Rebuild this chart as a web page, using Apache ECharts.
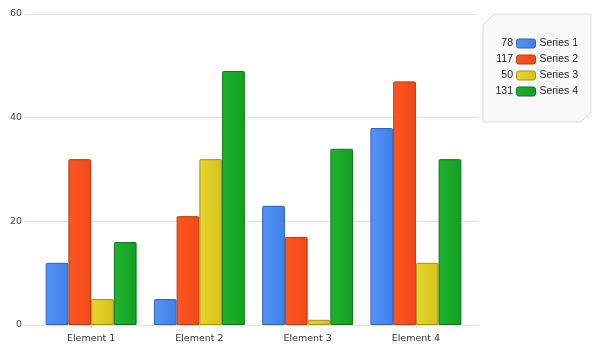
<!DOCTYPE html>
<html>
<head>
<meta charset="utf-8">
<script src="https://cdn.jsdelivr.net/npm/echarts@6/dist/echarts.min.js"></script>
<style>
  html, body { margin: 0; padding: 0; background: #fff; }
  #chart { width: 601px; height: 351px; }
</style>
</head>
<body>
<div id="chart"></div>
<script>
const categories = ['Element 1', 'Element 2', 'Element 3', 'Element 4'];
const seriesNames = ['Series 1', 'Series 2', 'Series 3', 'Series 4'];
const series1 = [12, 5, 23, 38];
const series2 = [32, 21, 17, 47];
const series3 = [5, 32, 1, 12];
const series4 = [16, 49, 34, 32];
const yTicks = [0, 20, 40, 60];

const allData = [series1, series2, series3, series4];
const fills = [
  ['#5294fa', '#3f80e6'],
  ['#ff5522', '#f04a18'],
  ['#e6d52a', '#d4c21c'],
  ['#1cb42c', '#15a024']
];
const borders = ['#2f5fb8', '#b83a12', '#a39512', '#0f7419'];

function grad(c) {
  return new echarts.graphic.LinearGradient(0, 0, 1, 0, [
    { offset: 0, color: c[0] }, { offset: 1, color: c[1] }
  ]);
}

const totals = allData.map(d => d.reduce((a, b) => a + b, 0));

const chart = echarts.init(document.getElementById('chart'));

const font = 'DejaVu Sans';

chart.setOption({
  animation: false,
  grid: [
    { left: 25, right: 123, top: 14, bottom: 26 },
    { left: 37, right: 131, top: 14, bottom: 26 }
  ],
  xAxis: [
    {
      gridIndex: 0, type: 'category', data: categories,
      axisLine: { show: true, lineStyle: { color: '#e4e4e4' } },
      axisTick: { show: false }, axisLabel: { show: false }
    },
    {
      gridIndex: 1, type: 'category', data: categories,
      axisLine: { show: false },
      axisTick: { show: true, alignWithLabel: true, length: 4, lineStyle: { color: '#e4e4e4' } },
      axisLabel: { color: '#333', fontFamily: font, fontSize: 9.5, margin: 9 }
    }
  ],
  yAxis: [
    {
      gridIndex: 0, type: 'value', min: yTicks[0], max: yTicks[yTicks.length - 1], interval: 20,
      axisLine: { show: false }, axisTick: { show: false },
      splitLine: { lineStyle: { color: '#e4e4e4' } },
      axisLabel: { color: '#444', fontFamily: font, fontSize: 9.5, margin: 3 }
    },
    {
      gridIndex: 1, type: 'value', min: yTicks[0], max: yTicks[yTicks.length - 1], interval: 20,
      show: false
    }
  ],
  series: allData.map((d, i) => ({
    name: seriesNames[i],
    type: 'bar',
    xAxisIndex: 1,
    yAxisIndex: 1,
    data: d,
    barGap: '0%',
    barCategoryGap: '16%',
    itemStyle: {
      color: grad(fills[i]),
      borderColor: borders[i],
      borderWidth: 1,
      borderRadius: [1, 1, 0, 0]
    }
  })),
  legend: {
    orient: 'vertical',
    left: 511,
    top: 33,
    itemWidth: 19,
    itemHeight: 9,
    itemGap: 5,
    icon: 'roundRect',
    data: seriesNames.map((n, i) => ({
      name: n,
      itemStyle: { color: grad(fills[i]), borderColor: borders[i], borderWidth: 1 }
    })),
    textStyle: { color: '#222', fontFamily: 'Liberation Sans', fontSize: 10.5, padding: [0, 0, 0, -1] },
    selectedMode: false
  },
  graphic: [
    {
      type: 'polygon',
      z: -1,
      shape: { points: [[494, 14], [591, 14], [591, 112], [581, 122], [483, 122], [483, 25]] },
      style: { fill: '#fafafa', stroke: '#dcdcdc', lineWidth: 1 }
    }
  ].concat(totals.map((t, i) => ({
    type: 'text',
    x: 513,
    y: 43 + i * 16,
    style: {
      text: String(t),
      fill: '#222',
      font: '10.5px "Liberation Sans"',
      textAlign: 'right',
      textVerticalAlign: 'middle'
    }
  })))
});
</script>
</body>
</html>
